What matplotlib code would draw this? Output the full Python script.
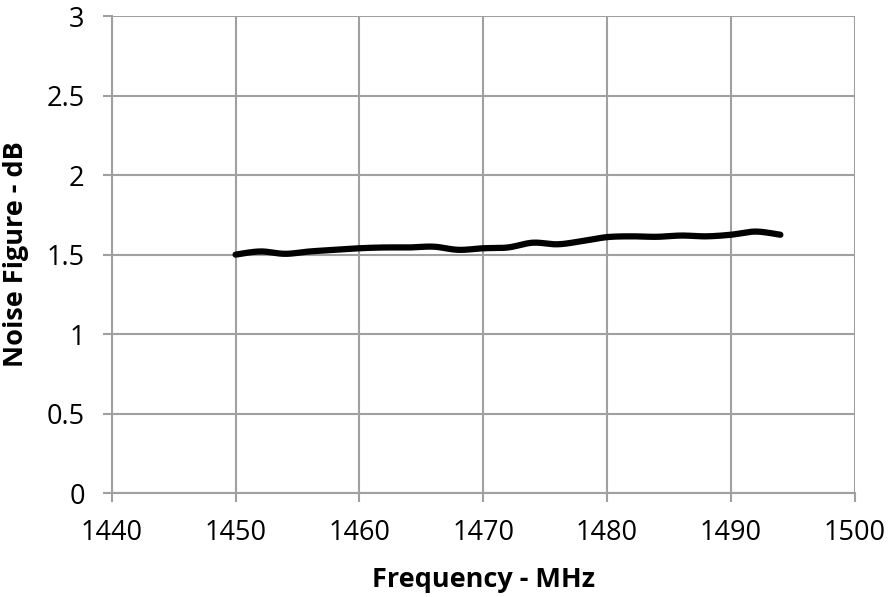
import matplotlib
matplotlib.use('agg')
from matplotlib import pyplot as plt
import numpy as np

freq_mhz = [1450, 1452, 1454, 1456, 1458, 1460, 1462, 1464, 1466, 1468, 1470, 1472,
            1474, 1476, 1478, 1480, 1482, 1484, 1486, 1488, 1490, 1492, 1494]
noise_db = [1.50, 1.52, 1.505, 1.52, 1.53, 1.54, 1.545, 1.545, 1.55, 1.53, 1.54, 1.545,
            1.575, 1.565, 1.585, 1.61, 1.615, 1.612, 1.62, 1.615, 1.625, 1.645, 1.625]

x_ticks = [1440, 1450, 1460, 1470, 1480, 1490, 1500]
y_ticks = [0, 0.5, 1, 1.5, 2, 2.5, 3]
y_labels = ['0', '0.5', '1', '1.5', '2', '2.5', '3']


def smooth(xs, ys, n=12):
    # catmull-rom through the points, like a spreadsheet's smoothed line
    p = np.column_stack([xs, ys]).astype(float)
    p = np.vstack([p[0], p, p[-1]])
    out = []
    t = np.linspace(0, 1, n, endpoint=False)[:, None]
    for i in range(1, len(p) - 2):
        p0, p1, p2, p3 = p[i - 1], p[i], p[i + 1], p[i + 2]
        seg = 0.5 * ((2 * p1) + (-p0 + p2) * t
                     + (2 * p0 - 5 * p1 + 4 * p2 - p3) * t ** 2
                     + (-p0 + 3 * p1 - 3 * p2 + p3) * t ** 3)
        out.append(seg)
    out.append(p[-2][None, :])
    out = np.vstack(out)
    return out[:, 0], out[:, 1]


plt.rcParams['font.family'] = ['Open Sans', 'DejaVu Sans']
grid_col = '#a0a0a0'

fig = plt.figure(figsize=(8.94, 5.97), dpi=100)
ax = fig.add_axes([0.125, 0.174, 0.831, 0.799])

sx, sy = smooth(freq_mhz, noise_db)
ax.plot(sx, sy, color='black', linewidth=4.5,
        solid_joinstyle='round', solid_capstyle='round', zorder=3)

ax.set_xlim(1440, 1500)
ax.set_ylim(0, 3)
ax.set_xticks(x_ticks)
ax.set_yticks(y_ticks)
ax.set_yticklabels(y_labels)
ax.grid(True, color=grid_col, linewidth=1.5)

for side in ['top', 'right']:
    ax.spines[side].set_visible(False)
for side in ['left', 'bottom']:
    ax.spines[side].set_color(grid_col)
    ax.spines[side].set_linewidth(1.5)

ax.tick_params(axis='both', colors=grid_col, length=6.5, width=1.5,
               labelcolor='black', labelsize=19.5)
ax.tick_params(axis='x', pad=12)
ax.tick_params(axis='y', pad=13)

ax.set_xlabel('Frequency - MHz', fontsize=19.5, fontweight='bold')
ax.set_ylabel('Noise Figure - dB', fontsize=19.5, fontweight='bold')
ax.xaxis.set_label_coords(0.5, -0.155)
ax.yaxis.set_label_coords(-0.111, 0.5)

fig.savefig('out.png', dpi=100)
